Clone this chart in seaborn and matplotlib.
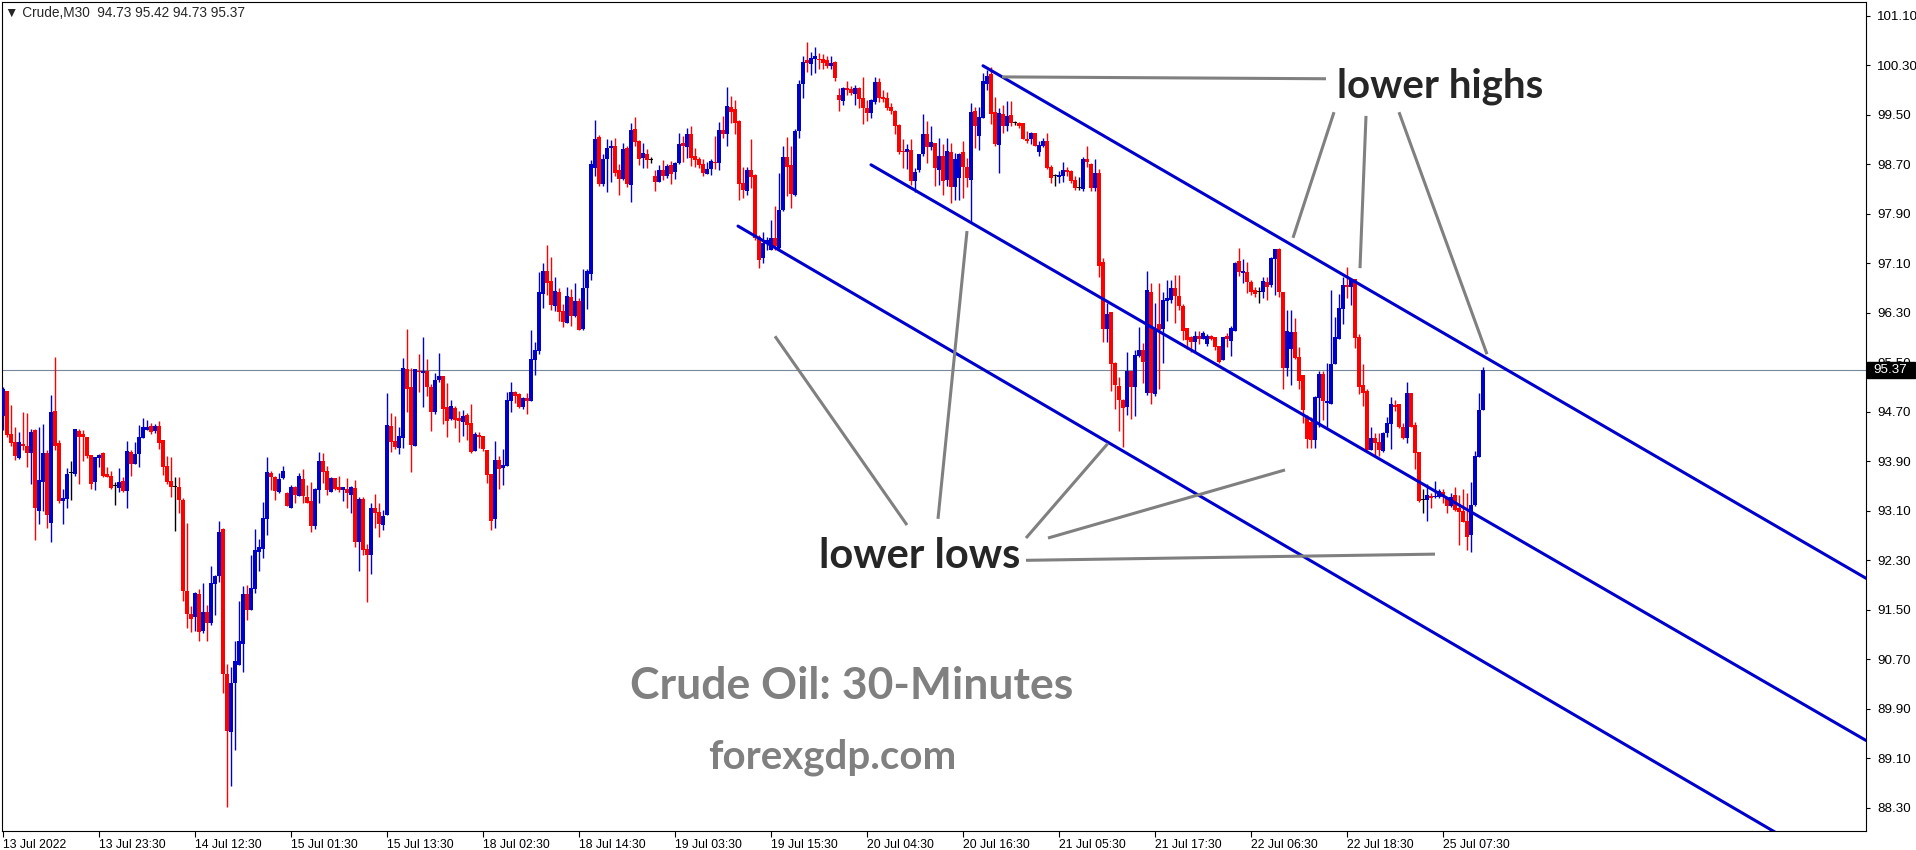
import numpy as np
import pandas as pd
import matplotlib
matplotlib.use("Agg")
import matplotlib.pyplot as plt
from matplotlib.patches import Rectangle
import seaborn as sns

# Crude M30 candles (one value per 30-minute bar)
opens = [
    94.63, 95.03, 94.34, 94.21, 93.96, 94.18, 94.14, 94.03, 94.40, 93.10,
    93.57, 94.03, 92.91, 94.71, 94.20, 93.26, 93.29, 93.71, 93.70, 94.39,
    94.34, 94.29, 94.00, 93.56, 93.96, 94.03, 93.70, 93.67, 93.50, 93.47,
    93.58, 93.42, 94.05, 93.86, 94.02, 94.28, 94.41, 94.47, 94.39, 94.47,
    94.24, 93.82, 93.58, 93.49, 93.49, 93.28, 91.80, 91.43, 91.39, 91.76,
    91.16, 91.47, 91.29, 91.91, 92.05, 92.81, 90.47, 89.53, 90.31, 90.61,
    90.95, 91.76, 91.50, 91.83, 92.44, 92.49, 92.97, 93.71, 93.65, 93.40,
    93.63, 93.39, 93.15, 93.48, 93.34, 93.61, 93.32, 93.26, 92.86, 93.44,
    93.90, 93.74, 93.41, 93.63, 93.48, 93.44, 93.45, 93.36, 93.47, 92.60,
    93.29, 92.48, 92.38, 93.15, 93.08, 92.87, 93.03, 94.47, 94.23, 94.12,
    94.28, 95.39, 95.10, 94.15, 95.36, 95.33, 95.36, 95.10, 94.70, 95.22,
    95.28, 94.78, 94.59, 94.76, 94.60, 94.54, 94.65, 94.52, 94.07, 94.33,
    94.31, 94.08, 93.70, 92.97, 93.92, 93.79, 93.83, 94.88, 95.02, 94.99,
    94.78, 94.92, 94.88, 95.54, 95.68, 96.60, 96.98, 96.81, 96.41, 96.64,
    96.33, 96.14, 96.56, 96.24, 96.49, 96.04, 96.70, 96.93, 98.64, 99.14,
    98.38, 98.79, 98.96, 99.00, 98.61, 98.46, 98.96, 98.37, 99.27, 99.08,
    98.80, 98.87, 98.77, 98.51, 98.41, 98.61, 98.51, 98.69, 98.58, 98.72,
    99.04, 98.98, 99.19, 98.83, 98.79, 98.71, 98.54, 98.62, 98.74, 98.72,
    99.25, 99.19, 99.63, 99.59, 99.40, 98.40, 98.27, 98.61, 98.53, 97.53,
    97.18, 97.42, 97.32, 97.51, 97.35, 97.96, 98.82, 98.69, 98.20, 99.24,
    100.00, 100.39, 100.32, 100.40, 100.40, 100.40, 100.39, 100.29, 100.35, 99.82,
    99.72, 99.93, 99.92, 99.84, 99.93, 99.77, 99.60, 99.53, 99.71, 100.02,
    99.79, 99.77, 99.63, 99.56, 99.34, 98.92, 98.90, 98.93, 98.43, 98.61,
    98.87, 99.18, 98.98, 99.05, 98.61, 98.84, 98.45, 98.89, 98.33, 98.47,
    98.89, 98.65, 98.44, 99.56, 99.15, 99.45, 99.99, 100.15, 99.54, 99.01,
    99.51, 99.32, 99.49, 99.36, 99.36, 99.36, 99.11, 99.10, 99.20, 98.89,
    99.00, 99.08, 98.65, 98.51, 98.50, 98.51, 98.60, 98.59, 98.44, 98.31,
    98.30, 98.78, 98.71, 98.31, 98.55, 97.12, 96.04, 96.31, 95.48, 95.12,
    94.89, 94.77, 95.36, 95.10, 95.60, 95.70, 95.00, 96.64, 94.99, 96.11,
    96.04, 96.49, 96.51, 96.70, 96.57, 96.41, 96.05, 95.90, 95.82, 95.92,
    95.87, 95.80, 95.92, 95.90, 95.76, 95.54, 95.92, 95.85, 96.01, 97.13,
    96.94, 96.96, 96.79, 96.67, 96.64, 96.63, 96.79, 96.74, 97.17, 97.33,
    96.64, 95.40, 95.72, 95.99, 95.59, 95.30, 94.62, 94.53, 94.24, 94.93,
    95.31, 94.84, 94.83, 95.47, 95.88, 96.36, 96.74, 96.72, 96.84, 95.90,
    95.13, 95.03, 94.09, 94.28, 94.21, 94.06, 94.35, 94.50, 94.81, 94.82,
    94.45, 94.28, 95.00, 94.48, 94.05, 93.28, 93.28, 93.34, 93.32, 93.32,
    93.40, 93.31, 93.18, 93.35, 93.14, 93.10, 92.93, 92.71, 93.19, 93.97, 94.73,
]
highs = [
    95.10, 95.03, 94.81, 94.45, 94.37, 94.70, 94.68, 94.42, 94.42, 94.45,
    94.50, 94.08, 94.97, 95.59, 94.24, 93.45, 93.79, 93.91, 94.42, 94.42,
    94.40, 94.30, 94.00, 93.97, 94.02, 94.05, 93.81, 93.74, 93.56, 93.79,
    93.64, 94.23, 94.08, 94.21, 94.49, 94.60, 94.57, 94.52, 94.50, 94.55,
    94.24, 93.98, 93.97, 93.65, 93.65, 93.30, 92.91, 91.56, 91.79, 91.84,
    91.93, 91.58, 92.21, 92.07, 92.94, 92.82, 90.62, 90.58, 91.00, 91.64,
    91.89, 91.90, 92.39, 92.81, 92.65, 93.24, 93.97, 93.75, 93.66, 93.71,
    93.82, 93.40, 93.52, 93.50, 93.71, 93.78, 93.52, 93.57, 93.47, 94.05,
    94.03, 93.82, 93.65, 93.63, 93.66, 93.48, 93.63, 93.50, 93.60, 93.32,
    93.32, 92.56, 93.23, 93.37, 93.23, 93.12, 95.01, 94.68, 94.63, 94.46,
    95.57, 96.04, 95.41, 95.39, 95.64, 95.91, 95.55, 95.15, 95.33, 95.65,
    95.28, 95.17, 94.89, 94.80, 94.71, 94.73, 94.68, 94.83, 94.38, 94.38,
    94.31, 94.08, 93.70, 94.23, 93.99, 94.10, 95.02, 95.18, 95.04, 95.01,
    94.94, 95.01, 96.02, 95.83, 96.96, 97.11, 97.40, 97.20, 96.88, 96.70,
    96.44, 96.72, 96.69, 96.78, 96.54, 97.01, 97.01, 98.77, 99.42, 99.17,
    98.87, 99.11, 99.09, 99.13, 98.71, 99.04, 99.00, 99.37, 99.46, 99.09,
    99.04, 98.95, 98.82, 98.61, 98.69, 98.77, 98.71, 98.75, 98.74, 99.21,
    99.16, 99.29, 99.32, 98.96, 98.82, 98.79, 98.74, 98.79, 99.16, 99.38,
    99.48, 99.95, 99.80, 99.74, 99.42, 98.66, 98.66, 99.11, 98.54, 97.56,
    97.60, 97.53, 97.80, 98.03, 98.55, 99.00, 99.14, 99.00, 99.27, 100.06,
    100.45, 100.68, 100.52, 100.60, 100.50, 100.48, 100.45, 100.45, 100.37, 99.93,
    99.95, 100.05, 99.97, 99.98, 99.95, 100.11, 99.74, 99.76, 100.11, 100.10,
    99.90, 99.87, 99.69, 99.58, 99.35, 99.11, 99.03, 99.11, 98.64, 98.87,
    99.51, 99.39, 99.32, 99.05, 99.13, 99.03, 99.13, 99.04, 98.88, 98.88,
    99.07, 98.80, 99.69, 99.62, 99.62, 100.17, 100.22, 100.27, 99.78, 99.60,
    99.65, 99.72, 99.72, 99.39, 99.38, 99.36, 99.24, 99.22, 99.21, 99.08,
    99.13, 99.20, 98.69, 98.54, 98.59, 98.73, 98.66, 98.61, 98.51, 98.50,
    98.82, 98.99, 98.72, 98.78, 98.62, 97.18, 96.45, 96.31, 95.51, 95.26,
    94.91, 95.66, 95.36, 95.69, 96.07, 95.81, 96.98, 96.78, 96.46, 96.78,
    96.63, 96.83, 96.83, 96.91, 96.91, 96.44, 96.05, 95.93, 96.01, 96.01,
    96.01, 95.95, 95.94, 95.90, 95.76, 95.90, 95.98, 96.08, 97.12, 97.35,
    97.17, 97.12, 96.83, 96.72, 96.72, 96.87, 96.87, 97.20, 97.33, 97.35,
    96.64, 96.35, 96.34, 96.22, 95.74, 95.30, 94.65, 94.62, 94.95, 95.36,
    95.36, 95.48, 96.66, 96.23, 96.61, 96.88, 97.04, 96.85, 96.85, 95.95,
    95.47, 95.06, 94.45, 94.35, 94.35, 94.37, 94.61, 94.94, 94.89, 94.82,
    94.52, 95.18, 95.00, 94.53, 94.05, 93.46, 93.54, 93.38, 93.58, 93.45,
    93.45, 93.32, 93.38, 93.49, 93.35, 93.45, 93.38, 93.56, 94.06, 95.00, 95.42,
]
lows = [
    94.40, 94.30, 94.14, 93.92, 93.94, 94.08, 93.81, 93.53, 92.63, 92.89,
    93.10, 92.82, 92.60, 94.08, 93.22, 92.89, 93.15, 93.27, 93.67, 93.54,
    93.91, 93.96, 93.45, 93.43, 93.81, 93.64, 93.64, 93.45, 93.20, 93.41,
    93.41, 93.14, 93.67, 93.86, 93.81, 94.28, 94.41, 94.34, 94.36, 94.10,
    93.68, 93.54, 93.33, 92.78, 93.07, 91.65, 91.20, 91.15, 91.16, 91.00,
    91.12, 90.99, 91.25, 91.42, 91.95, 90.15, 88.32, 88.65, 89.24, 90.61,
    90.50, 91.33, 91.50, 91.78, 92.13, 92.33, 92.71, 93.44, 93.28, 93.39,
    93.61, 93.17, 93.15, 93.23, 93.34, 93.23, 93.22, 92.76, 92.81, 93.22,
    93.55, 93.36, 93.41, 93.44, 93.41, 93.26, 93.15, 93.07, 92.52, 92.12,
    92.38, 91.62, 92.08, 92.83, 92.68, 92.79, 93.03, 94.05, 94.10, 94.02,
    94.12, 94.70, 93.73, 94.15, 95.02, 94.78, 94.96, 94.39, 94.67, 95.18,
    94.50, 94.29, 94.57, 94.44, 94.21, 94.31, 94.25, 94.04, 94.07, 94.12,
    94.07, 93.55, 92.79, 92.82, 93.45, 93.52, 93.83, 94.70, 94.84, 94.76,
    94.75, 94.67, 94.88, 95.30, 95.64, 96.38, 96.59, 96.35, 96.33, 96.17,
    96.07, 96.14, 96.08, 96.23, 96.02, 96.02, 96.36, 96.83, 98.51, 98.35,
    98.35, 98.25, 98.41, 98.51, 98.20, 98.45, 98.33, 98.09, 99.00, 98.69,
    98.64, 98.64, 98.72, 98.27, 98.41, 98.45, 98.48, 98.38, 98.46, 98.71,
    98.74, 98.80, 98.67, 98.66, 98.64, 98.51, 98.54, 98.53, 98.62, 98.61,
    99.13, 99.00, 99.37, 99.19, 98.12, 98.16, 98.20, 98.32, 97.48, 97.03,
    97.10, 97.32, 97.32, 97.32, 97.32, 97.94, 98.19, 97.99, 98.18, 99.13,
    99.77, 100.19, 100.14, 100.18, 100.24, 100.23, 100.26, 100.24, 100.05, 99.56,
    99.66, 99.82, 99.81, 99.66, 99.60, 99.35, 99.40, 99.45, 99.68, 99.71,
    99.71, 99.58, 99.51, 99.19, 98.87, 98.64, 98.63, 98.37, 98.25, 98.58,
    98.84, 98.72, 98.93, 98.35, 98.37, 98.21, 98.35, 98.08, 98.12, 98.12,
    98.15, 98.33, 97.76, 98.96, 98.93, 99.44, 99.90, 99.35, 98.99, 98.56,
    99.20, 99.24, 99.31, 99.33, 99.28, 99.10, 99.05, 99.03, 98.99, 98.84,
    98.97, 98.62, 98.39, 98.34, 98.39, 98.42, 98.51, 98.39, 98.29, 98.28,
    98.26, 98.66, 98.27, 98.27, 96.88, 95.83, 95.82, 95.04, 94.75, 94.39,
    94.13, 94.65, 94.59, 94.63, 95.59, 95.17, 94.97, 94.83, 94.95, 95.06,
    95.49, 96.16, 96.46, 96.14, 96.35, 95.86, 95.72, 95.67, 95.66, 95.80,
    95.87, 95.77, 95.86, 95.70, 95.48, 95.54, 95.74, 95.60, 96.01, 96.89,
    96.78, 96.62, 96.59, 96.56, 96.46, 96.53, 96.51, 96.72, 96.59, 96.56,
    95.06, 95.27, 95.14, 95.56, 95.06, 94.52, 94.11, 94.11, 94.11, 94.46,
    94.57, 94.46, 94.83, 95.47, 95.87, 96.11, 96.53, 96.42, 95.73, 94.99,
    94.80, 94.08, 94.08, 93.99, 93.98, 94.05, 94.29, 94.10, 94.71, 94.43,
    94.26, 94.19, 94.45, 93.78, 93.24, 93.07, 92.94, 93.14, 93.31, 93.30,
    93.22, 93.06, 93.16, 93.10, 92.55, 92.92, 92.47, 92.43, 93.18, 93.97, 94.73,
]
closes = [
    95.07, 94.33, 94.20, 93.99, 94.21, 94.15, 94.04, 94.37, 93.14, 93.60,
    94.03, 93.04, 94.70, 94.15, 93.26, 93.31, 93.70, 93.71, 94.42, 94.30,
    94.30, 93.99, 93.54, 93.97, 94.00, 93.67, 93.65, 93.47, 93.50, 93.57,
    93.42, 94.07, 93.85, 94.02, 94.29, 94.45, 94.45, 94.37, 94.47, 94.20,
    93.81, 93.57, 93.49, 93.49, 93.28, 91.80, 91.43, 91.36, 91.78, 91.15,
    91.47, 91.29, 91.93, 92.05, 92.76, 90.47, 89.55, 90.32, 90.67, 91.00,
    91.76, 91.49, 91.85, 92.47, 92.52, 92.98, 93.73, 93.65, 93.42, 93.61,
    93.74, 93.17, 93.48, 93.36, 93.66, 93.34, 93.23, 92.86, 93.45, 93.90,
    93.73, 93.44, 93.63, 93.46, 93.44, 93.48, 93.39, 93.48, 92.59, 93.29,
    92.47, 92.38, 93.15, 93.07, 92.89, 93.02, 94.49, 94.21, 94.13, 94.31,
    95.41, 95.07, 94.17, 95.39, 95.34, 95.36, 95.10, 94.70, 95.22, 95.28,
    94.75, 94.55, 94.80, 94.57, 94.55, 94.63, 94.49, 94.05, 94.34, 94.29,
    94.10, 93.68, 92.94, 93.92, 93.78, 93.84, 94.89, 95.02, 94.96, 94.78,
    94.92, 94.88, 95.55, 95.70, 96.64, 96.98, 96.78, 96.43, 96.65, 96.31,
    96.15, 96.57, 96.24, 96.49, 96.02, 96.70, 96.98, 98.71, 99.11, 98.38,
    98.79, 98.96, 99.00, 98.56, 98.46, 98.95, 98.38, 99.25, 99.06, 98.79,
    98.88, 98.77, 98.77, 98.41, 98.61, 98.51, 98.67, 98.54, 98.72, 99.03,
    99.00, 99.19, 98.80, 98.77, 98.69, 98.56, 98.62, 98.75, 98.72, 99.25,
    99.19, 99.64, 99.55, 99.37, 98.38, 98.29, 98.61, 98.50, 97.51, 97.15,
    97.42, 97.48, 97.50, 97.38, 97.96, 98.82, 98.66, 98.22, 99.24, 100.00,
    100.35, 100.34, 100.42, 100.44, 100.39, 100.34, 100.29, 100.34, 100.10, 99.74,
    99.93, 99.90, 99.85, 99.93, 99.76, 99.60, 99.53, 99.74, 100.02, 99.77,
    99.76, 99.61, 99.56, 99.32, 98.90, 98.90, 98.95, 98.43, 98.58, 98.87,
    99.18, 98.98, 99.06, 98.64, 98.84, 98.43, 98.92, 98.33, 98.78, 98.86,
    98.65, 98.47, 99.54, 99.31, 99.46, 100.04, 100.12, 99.51, 99.02, 99.52,
    99.31, 99.48, 99.36, 99.36, 99.32, 99.10, 99.07, 99.20, 99.00, 99.01,
    99.08, 98.64, 98.48, 98.51, 98.53, 98.60, 98.57, 98.43, 98.31, 98.31,
    98.78, 98.74, 98.31, 98.55, 97.06, 96.04, 96.28, 95.47, 95.14, 94.89,
    94.76, 95.36, 95.10, 95.62, 95.70, 95.50, 96.67, 95.00, 96.02, 96.02,
    96.51, 96.53, 96.70, 96.57, 96.41, 96.01, 95.86, 95.82, 95.93, 95.88,
    95.98, 95.92, 95.88, 95.74, 95.50, 95.90, 95.88, 96.05, 97.10, 96.95,
    96.97, 96.79, 96.64, 96.61, 96.64, 96.82, 96.72, 97.19, 97.33, 96.64,
    95.40, 96.00, 95.99, 95.57, 95.20, 94.73, 94.26, 94.25, 94.94, 95.31,
    94.87, 94.88, 95.47, 95.90, 96.37, 96.74, 96.71, 96.83, 95.89, 95.10,
    95.00, 94.09, 94.27, 94.20, 94.08, 94.35, 94.52, 94.82, 94.78, 94.45,
    94.28, 95.00, 94.45, 94.04, 93.26, 93.28, 93.35, 93.31, 93.34, 93.42,
    93.32, 93.18, 93.33, 93.12, 93.08, 92.92, 92.68, 93.19, 93.98, 94.73, 95.37,
]

time_labels = ["13 Jul 2022", "13 Jul 23:30", "14 Jul 12:30", "15 Jul 01:30",
               "15 Jul 13:30", "18 Jul 02:30", "18 Jul 14:30", "19 Jul 03:30",
               "19 Jul 15:30", "20 Jul 04:30", "20 Jul 16:30", "21 Jul 05:30",
               "21 Jul 17:30", "22 Jul 06:30", "22 Jul 18:30", "25 Jul 07:30"]
price_ticks = [88.30, 89.10, 89.90, 90.70, 91.50, 92.30, 93.10, 93.90, 94.70,
               95.50, 96.30, 97.10, 97.90, 98.70, 99.50, 100.30, 101.10]
last_price = 95.37

# channel lines: (bar, price) at both ends
channel_upper = ([245.0, 465.75], [100.29, 92.01])
channel_mid = ([217.0, 465.75], [98.69, 89.39])
channel_low = ([183.75, 465.75], [97.70, 87.05])

# grey pointer lines for the annotations
pointers = [
    ([249.75, 330.75], [100.11, 100.08]),
    ([332.75, 322.5], [99.54, 97.51]),
    ([340.75, 339.25], [99.48, 97.02]),
    ([349.0, 371.0], [99.54, 95.63]),
    ([233.75, 241.0], [92.97, 97.62]),
    ([226.0, 193.0], [92.87, 95.92]),
    ([255.75, 276.25], [92.66, 94.19]),
    ([261.25, 320.5], [92.66, 93.76]),
    ([255.75, 358.0], [92.30, 92.40]),
]

BULL = "#0000CD"
BEAR = "#FF0000"
W, H = 1916, 850

sns.set_style("white")
plt.rcParams['font.family'] = ['Liberation Sans', 'DejaVu Sans']

df = pd.DataFrame({"open": opens, "high": highs, "low": lows, "close": closes})
df["bar"] = np.arange(len(df))
df["color"] = np.where(df.close > df.open, BULL,
                       np.where(df.close < df.open, BEAR, "black"))

fig = plt.figure(figsize=(W / 100, H / 100), dpi=100)
ax = fig.add_axes([2 / W, 19 / H, 1864 / W, 829 / H])

# current price line
ax.axhline(last_price, color="#778899", lw=0.8, zorder=1)

# candles
ax.vlines(df.bar, df.low, df.high, colors=df.color, lw=1.0, zorder=2)
body_low = np.minimum(df.open, df.close)
body_h = np.maximum((df.close - df.open).abs(), 0.016)
ax.bar(df.bar, body_h, bottom=body_low, width=0.78, color=df.color,
       linewidth=0, zorder=3)

# descending channel
for xs, ys in (channel_upper, channel_mid, channel_low):
    sns.lineplot(x=xs, y=ys, ax=ax, color=BULL, lw=2.2, zorder=4)

for xs, ys in pointers:
    ax.plot(xs, ys, color="#808080", lw=2.2, zorder=5, solid_capstyle="butt")

ax.text(359.25, 99.77, "lower highs", fontsize=29, fontweight="bold",
        family=["Lato", "DejaVu Sans"], ha="center", va="baseline", zorder=6)
ax.text(229.25, 92.18, "lower lows", fontsize=30, fontweight="bold",
        family=["Lato", "DejaVu Sans"], ha="center", va="baseline", zorder=6)
ax.text(212.25, 90.06, "Crude Oil: 30-Minutes", fontsize=32, fontweight="bold",
        family=["Lato", "DejaVu Sans"], color="#808080", ha="center",
        va="baseline", zorder=6)
ax.text(207.25, 88.93, "forexgdp.com", fontsize=29, fontweight="bold",
        family=["Lato", "DejaVu Sans"], color="#808080", ha="center",
        va="baseline", zorder=6)

ax.set_xlim(-0.25, 465.75)
ax.set_ylim(87.927, 101.32)

ax.set_xticks(np.arange(0, 24 * len(time_labels), 24))
ax.set_xticklabels(time_labels)
for lab in ax.get_xticklabels():
    lab.set_horizontalalignment("left")
ax.set_yticks(price_ticks)
ax.set_yticklabels([f"{p:.2f}" for p in price_ticks])

ax.tick_params(axis="x", bottom=True, direction="out", length=4, width=0.8,
               pad=1.5, labelsize=8.8, colors="black")
ax.tick_params(axis="y", left=False, right=True, labelleft=False,
               labelright=True, direction="out", length=3, width=0.8,
               pad=5, labelsize=9.6, colors="black")
for sp in ax.spines.values():
    sp.set_color("black")
    sp.set_linewidth(0.8)
    sp.set_visible(True)
ax.set_xlabel("")
ax.set_ylabel("")

# last price box on the price scale
fig.patches.append(Rectangle((1867 / W, (H - 378) / H), 48 / W, 16 / H,
                             transform=fig.transFigure, color="black", zorder=5))
fig.text(1873 / W, (H - 370) / H, f"{last_price:.2f}", color="white",
         fontsize=9.6, va="center", ha="left", zorder=6)

# chart header
fig.text(5 / W, (H - 13) / H, "\u25bc Crude,M30  94.73 95.42 94.73 95.37",
         fontsize=9.8, va="center", ha="left",
         family=["Liberation Sans", "DejaVu Sans"])

fig.savefig("out.png", dpi=100, facecolor="white")
